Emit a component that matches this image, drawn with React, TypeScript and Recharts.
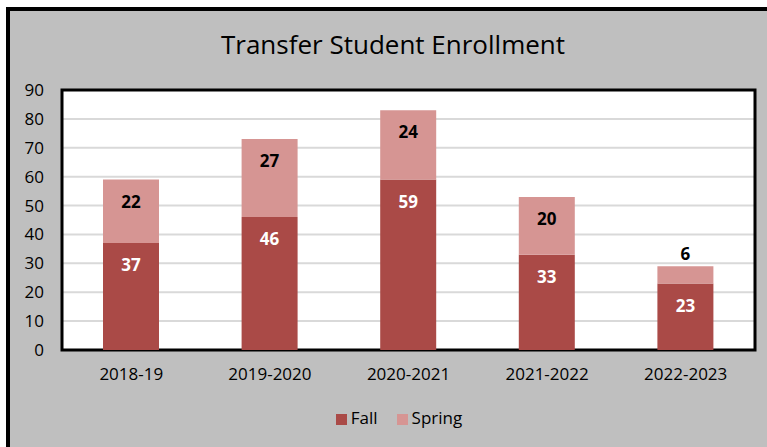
import React from "react";
import {
  BarChart,
  Bar,
  XAxis,
  YAxis,
  CartesianGrid,
  Legend,
  LabelList,
  ReferenceArea,
} from "recharts";

const years = ["2018-19", "2019-2020", "2020-2021", "2021-2022", "2022-2023"];
const fall = [37, 46, 59, 33, 23];
const spring = [22, 27, 24, 20, 6];
const yTicks = [0, 10, 20, 30, 40, 50, 60, 70, 80, 90];

const FALL = "#AA4A47";
const SPRING = "#D69593";
const FONT = "'Open Sans', 'Noto Sans', sans-serif";

const data = years.map((y, i) => ({ year: y, Fall: fall[i], Spring: spring[i] }));

// 标签放在段内顶部，段太矮就放到柱子上方
function makeLabel(color: string) {
  return (props: any) => {
    const { x, y, width, height, value } = props;
    const cx = x + width / 2;
    const small = height < 30;
    const ty = small ? y - 6 : y + 28;
    return (
      <text
        x={cx}
        y={ty}
        textAnchor="middle"
        fill={small ? "#000" : color}
        fontSize={17}
        fontWeight="bold"
        fontFamily={FONT}
      >
        {value}
      </text>
    );
  };
}

export default function App() {
  return (
    <div style={{ position: "absolute", left: 0, top: 0, width: 767, height: 447, background: "#fff", overflow: "hidden" }}>
      <div
        style={{
          position: "absolute",
          left: 6,
          top: 7,
          width: 800,
          height: 480,
          border: "4px solid #000",
          background: "#BFBFBF",
        }}
      />
      <div
        style={{
          position: "absolute",
          left: 0,
          width: 786,
          top: 26,
          textAlign: "center",
          fontFamily: FONT,
          fontSize: 26,
          color: "#000",
        }}
      >
        Transfer Student Enrollment
      </div>
      <div style={{ position: "absolute", left: 0, top: 0 }}>
        <BarChart
          width={767}
          height={447}
          data={data}
          margin={{ top: 90, right: 12, left: 0, bottom: 0 }}
          barCategoryGap={0}
        >
          <CartesianGrid vertical={false} stroke="#D9D9D9" strokeWidth={2} fill="#fff" />
          <XAxis
            dataKey="year"
            axisLine={false}
            tickLine={false}
            tick={{ fill: "#000", fontSize: 17, fontFamily: FONT }}
            tickMargin={12}
            height={74}
          />
          <YAxis
            domain={[0, 90]}
            ticks={yTicks}
            axisLine={false}
            tickLine={false}
            width={62}
            tickMargin={12}
            tick={{ fill: "#000", fontSize: 17, fontFamily: FONT }}
          />
          <Legend
            verticalAlign="bottom"
            iconType="square"
            iconSize={11}
            wrapperStyle={{ left: 0, width: 808, bottom: 18, fontFamily: FONT, fontSize: 17 }}
            formatter={(v: string) => (
              <span style={{ color: "#000", marginRight: v === "Fall" ? 9 : 0 }}>{v}</span>
            )}
          />
          <Bar dataKey="Fall" stackId="a" fill={FALL} barSize={56} isAnimationActive={false}>
            <LabelList dataKey="Fall" content={makeLabel("#fff")} />
          </Bar>
          <Bar dataKey="Spring" stackId="a" fill={SPRING} barSize={56} isAnimationActive={false}>
            <LabelList dataKey="Spring" content={makeLabel("#000")} />
          </Bar>
          <ReferenceArea y1={0} y2={90} fill="none" stroke="#000" strokeWidth={3} ifOverflow="visible" />
        </BarChart>
      </div>
    </div>
  );
}
